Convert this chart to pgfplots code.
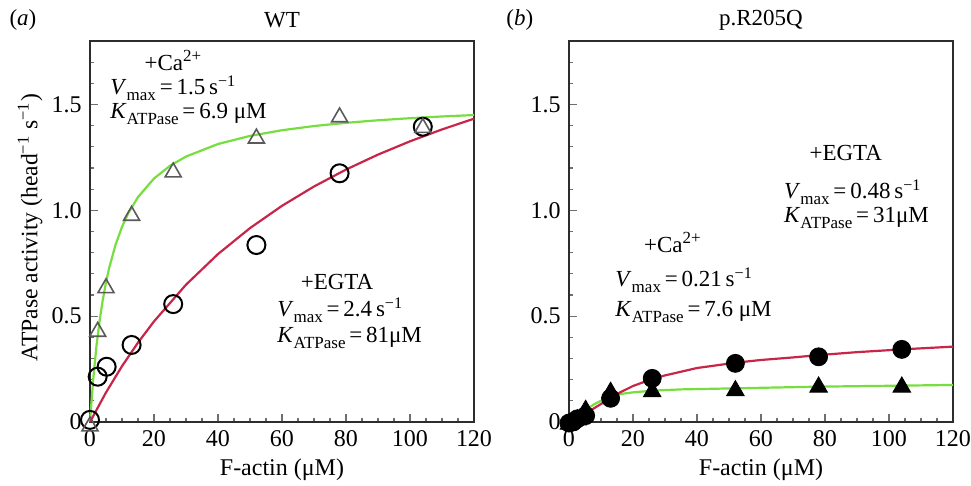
\documentclass[border=0pt,12pt]{standalone}
\usepackage{fontspec}
\setmainfont{Liberation Serif}
\usepackage{pgfplots}
\pgfplotsset{compat=1.18}

\definecolor{fitgreen}{RGB}{118,222,62}
\definecolor{fitred}{RGB}{200,38,72}
\definecolor{boxgray}{RGB}{45,45,45}
\definecolor{tickgray}{RGB}{110,110,110}
\definecolor{markgray}{RGB}{90,90,90}

\newcommand{\sub}[1]{\raisebox{-2.8pt}{\fontsize{8.5}{9}\selectfont #1}}
\newcommand{\charge}[1]{\raisebox{4.5pt}{\fontsize{8.5}{9}\selectfont #1}}
\newcommand{\vmax}[1]{\textit{V}\sub{max}\,=\,#1\,s\textsuperscript{−1}}
\newcommand{\katp}[1]{\textit{K}\sub{ATPase}\,=\,#1}

\tikzset{
  ann/.style={font=\fontsize{11.5}{13}\selectfont},
  annl/.style={ann, anchor=west, inner sep=0},
}

\pgfplotsset{
  panel/.style={
    width=192pt, height=190.5pt, scale only axis,
    xmin=0, xmax=120, ymin=0, ymax=1.8,
    xtick={0,20,...,120},
    minor xtick={5,10,15,25,30,35,45,50,55,65,70,75,85,90,95,105,110,115},
    ytick={0,0.5,1,1.5}, yticklabels={0,0.5,1.0,1.5},
    minor ytick={0.1,0.2,0.3,0.4,0.6,0.7,0.8,0.9,1.1,1.2,1.3,1.4,1.6,1.7},
    tick pos=left, tick align=inside,
    major tick length=4pt, minor tick length=2pt,
    every tick/.style={tickgray, line width=0.6pt},
    axis line style={boxgray, line width=1pt},
    tick label style={font=\fontsize{12}{14}\selectfont},
    /pgf/number format/assume math mode=true,
    clip=false,
    xlabel={F-actin (μM)},
    xlabel style={at={(axis description cs:0.5,-0.126)}, anchor=center,
      font=\fontsize{12}{14}\selectfont},
  },
  fit/.style={line width=1.1pt, no markers},
}

\begin{document}
\begin{tikzpicture}
% (a) WT
\begin{axis}[panel, at={(0,0)}, anchor=south west,
  ylabel={ATPase activity (head\textsuperscript{−1} s\textsuperscript{−1})},
  ylabel style={at={(axis description cs:-0.156,0.51)}, anchor=center,
    font=\fontsize{11.8}{14}\selectfont}]
\addplot[fit, fitgreen] coordinates {
 (0,0) (1,0.2013) (2,0.3558) (3,0.4781) (4,0.5774) (5,0.6595) (6,0.7286)
 (8,0.8384) (10,0.9217) (12,0.9871) (15,1.0625) (20,1.1504) (25,1.2104)
 (30,1.2541) (40,1.3133) (50,1.3516) (60,1.3784) (70,1.3982) (80,1.4134)
 (90,1.4255) (100,1.4353) (110,1.4434) (120,1.4502)};
\addplot[fit, fitred] coordinates {
 (0,0) (5,0.1395) (10,0.2637) (15,0.375) (20,0.4752) (30,0.6486) (40,0.7934)
 (50,0.916) (60,1.0213) (70,1.1126) (80,1.1925) (90,1.2632) (100,1.326)
 (110,1.3822) (120,1.4328)};
\addplot[only marks, mark=o, mark size=4.5pt, mark options={black, line width=1pt}] coordinates {
 (0,0.01) (2.4,0.214) (5.2,0.261) (13,0.364) (26,0.557) (52,0.836) (78,1.175) (104,1.395)};
\addplot[only marks, mark=triangle, mark size=4.6pt, mark options={markgray, line width=0.8pt}] coordinates {
 (0,-0.02) (2.4,0.427) (5,0.633) (13,0.975) (26,1.18) (52,1.34) (78,1.44) (104,1.39)};
\node[ann] at (axis cs:25.9,1.71) {+Ca\charge{2+}};
\node[annl] at (axis cs:6.25,1.578) {\vmax{1.5}};
\node[annl] at (axis cs:6.25,1.455) {\katp{6.9 μM}};
\node[ann] at (axis cs:77.2,0.661) {+EGTA};
\node[annl] at (axis cs:58.4,0.529) {\vmax{2.4}};
\node[annl] at (axis cs:58.4,0.397) {\katp{81μM}};
\node[ann] at (axis description cs:0.5,1.055) {WT};
\node[ann] at (axis description cs:-0.1745,1.055) {(\textit{a})};
\end{axis}

% (b) p.R205Q
\begin{axis}[panel, at={(239.5pt,0)}, anchor=south west]
\addplot[fit, fitgreen] coordinates {
 (0,0) (2,0.025) (4,0.045) (6,0.065) (8,0.085) (10,0.1) (13,0.12) (16,0.132)
 (20,0.14) (26,0.148) (35,0.154) (52,0.159) (78,0.167) (100,0.171) (120,0.175)};
\addplot[fit, fitred] coordinates {
 (0,0) (3,0.02) (6,0.048) (10,0.085) (13,0.113) (16,0.14) (20,0.17) (26,0.203)
 (30,0.22) (40,0.255) (52,0.28) (60,0.293) (70,0.305) (78,0.316) (90,0.33)
 (104,0.343) (120,0.356)};
\addplot[only marks, mark=triangle*, mark size=5.1pt, mark options={black}] coordinates {
 (0,-0.01) (2.6,0.01) (5.2,0.055) (13,0.14) (26,0.143) (52,0.148) (78,0.165) (104,0.165)};
\addplot[only marks, mark=*, mark size=4.5pt, mark options={black}] coordinates {
 (0,-0.005) (1.3,0.0) (2.6,0.015) (5.2,0.03) (13,0.112) (26,0.206) (52,0.277) (78,0.308) (104,0.343)};
\node[ann] at (axis cs:86.5,1.271) {+EGTA};
\node[annl] at (axis cs:67.1,1.086) {\vmax{0.48}};
\node[annl] at (axis cs:67.1,0.964) {\katp{31μM}};
\node[ann] at (axis cs:32.3,0.846) {+Ca\charge{2+}};
\node[annl] at (axis cs:14.4,0.671) {\vmax{0.21}};
\node[annl] at (axis cs:14.4,0.52) {\katp{7.6 μM}};
\node[ann] at (axis description cs:0.5,1.055) {p.R205Q};
\node[ann] at (axis description cs:-0.128,1.055) {(\textit{b})};
\end{axis}
\pgfresetboundingbox
\useasboundingbox (-45pt,-32pt) rectangle (440.5pt,211pt);
\end{tikzpicture}
\end{document}
